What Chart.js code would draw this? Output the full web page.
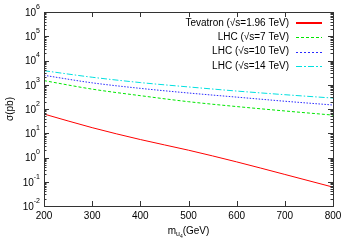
<!DOCTYPE html>
<html>
<head>
<meta charset="utf-8">
<script src="https://cdn.jsdelivr.net/npm/chart.js@4"></script>
<style>
  html, body { margin: 0; padding: 0; background: #fff; }
  #wrap { width: 350px; height: 245px; }
</style>
</head>
<body>
<div id="wrap"><canvas id="grafico" width="350" height="245"></canvas></div>
<script>
// datos
const masas = [200, 300, 400, 500, 600, 700, 800];
const tevatron = [62, 17, 5.5, 2.0, 0.66, 0.2, 0.06];
const lhc7 = [1480, 660, 355, 200, 126, 83, 56];
const lhc10 = [2450, 1200, 710, 457, 309, 209, 146];
const lhc14 = [3800, 2040, 1230, 813, 550, 389, 282];

const xTicks = [200, 300, 400, 500, 600, 700, 800];
const yExpos = [-2, -1, 0, 1, 2, 3, 4, 5, 6];
const etiquetas = ["Tevatron (\u221As=1.96 TeV)", "LHC (\u221As=7 TeV)", "LHC (\u221As=10 TeV)", "LHC (\u221As=14 TeV)"];
const colores = ["#ff0000", "#00e600", "#2a2aff", "#00e0e0"];
const trazos = [[], [3, 2], [1.5, 1.5], [6, 2, 1.5, 2]];

const FUENTE = "'Liberation Sans', Arial, sans-serif";

function puntos(vals) {
  return masas.map((m, i) => ({ x: m, y: vals[i] }));
}

const series = [tevatron, lhc7, lhc10, lhc14];

// segmento de leyenda hecho con rectangulos (patron de trazo)
function segmento(ctx, x1, x2, y, alto, patron, color) {
  ctx.fillStyle = color;
  if (!patron.length) { ctx.fillRect(x1, y, x2 - x1, alto); return; }
  let x = x1, k = 0;
  while (x < x2) {
    const largo = patron[k % patron.length];
    if (k % 2 === 0) ctx.fillRect(x, y, Math.min(largo, x2 - x), alto);
    x += largo;
    k++;
  }
}

const ejes = {
  id: "ejes",
  afterDraw(chart) {
    const ctx = chart.ctx;
    const a = chart.chartArea;
    const sx = chart.scales.x;
    const sy = chart.scales.y;
    ctx.save();
    ctx.strokeStyle = "#333";
    ctx.lineWidth = 1;
    ctx.strokeRect(a.left + 0.5, a.top + 0.5, a.right - a.left, a.bottom - a.top);

    // ticks x
    ctx.beginPath();
    xTicks.forEach(v => {
      const px = Math.round(sx.getPixelForValue(v)) + 0.5;
      ctx.moveTo(px, a.bottom); ctx.lineTo(px, a.bottom - 5);
      ctx.moveTo(px, a.top); ctx.lineTo(px, a.top + 5);
    });
    // ticks y mayores y menores
    yExpos.forEach(e => {
      const py = Math.round(sy.getPixelForValue(Math.pow(10, e))) + 0.5;
      ctx.moveTo(a.left, py); ctx.lineTo(a.left + 5, py);
      ctx.moveTo(a.right, py); ctx.lineTo(a.right - 5, py);
      if (e < 6) {
        for (let k = 2; k <= 9; k++) {
          const pm = Math.round(sy.getPixelForValue(k * Math.pow(10, e))) + 0.5;
          ctx.moveTo(a.left, pm); ctx.lineTo(a.left + 2.5, pm);
          ctx.moveTo(a.right, pm); ctx.lineTo(a.right - 2.5, pm);
        }
      }
    });
    ctx.stroke();

    ctx.fillStyle = "#000";
    // etiquetas x
    ctx.font = "10px " + FUENTE;
    ctx.textAlign = "center";
    ctx.textBaseline = "middle";
    xTicks.forEach(v => {
      ctx.fillText(String(v), sx.getPixelForValue(v), a.bottom + 10);
    });

    // etiquetas y con exponente
    yExpos.forEach(e => {
      const py = sy.getPixelForValue(Math.pow(10, e));
      const exp = String(e);
      ctx.font = "7px " + FUENTE;
      const we = ctx.measureText(exp).width;
      ctx.textAlign = "left";
      ctx.textBaseline = "middle";
      const xe = a.left - 4 - we;
      ctx.fillText(exp, xe, py - 5);
      ctx.font = "10px " + FUENTE;
      ctx.textAlign = "right";
      ctx.fillText("10", xe, py + 1);
    });

    // titulo y
    ctx.save();
    ctx.translate(10, (a.top + a.bottom) / 2);
    ctx.rotate(-Math.PI / 2);
    ctx.font = "10px " + FUENTE;
    ctx.textAlign = "center";
    ctx.textBaseline = "middle";
    ctx.fillText("\u03C3(pb)", 0, 0);
    ctx.restore();

    // titulo x: m_{u_4}(GeV)
    const cx = (a.left + a.right) / 2;
    const ty = 231;
    ctx.textBaseline = "middle";
    ctx.textAlign = "left";
    ctx.font = "10px " + FUENTE;
    const w1 = ctx.measureText("m").width;
    ctx.font = "7px " + FUENTE;
    const w2 = ctx.measureText("u").width;
    ctx.font = "5px " + FUENTE;
    const w3 = ctx.measureText("4").width;
    ctx.font = "10px " + FUENTE;
    const w4 = ctx.measureText("(GeV)").width;
    let x0 = cx - (w1 + w2 + w3 + w4) / 2;
    ctx.fillText("m", x0, ty);
    ctx.font = "7px " + FUENTE;
    ctx.fillText("u", x0 + w1, ty + 3);
    ctx.font = "5px " + FUENTE;
    ctx.fillText("4", x0 + w1 + w2, ty + 6);
    ctx.font = "10px " + FUENTE;
    ctx.fillText("(GeV)", x0 + w1 + w2 + w3, ty);
    ctx.restore();

    // leyenda
    etiquetas.forEach((t, i) => {
      const y = 23 + i * 14.3;
      ctx.save();
      ctx.font = "10px " + FUENTE;
      ctx.textAlign = "right";
      ctx.textBaseline = "middle";
      ctx.fillStyle = "#000";
      ctx.fillText(t, 289, y);
      const alto = i === 0 ? 2 : 1;
      segmento(ctx, 296, 322, Math.round(y) - (i === 0 ? 1 : 0), alto, trazos[i].map(Math.round), colores[i]);
      ctx.restore();
    });
  }
};

new Chart(document.getElementById("grafico"), {
  type: "line",
  data: {
    datasets: series.map((s, i) => ({
      label: etiquetas[i],
      data: puntos(s),
      borderColor: colores[i],
      borderWidth: 1,
      borderDash: trazos[i],
      pointRadius: 0,
      tension: 0.4,
      cubicInterpolationMode: "monotone",
      fill: false
    }))
  },
  options: {
    responsive: false,
    animation: false,
    layout: { padding: { left: 44, right: 17, top: 12, bottom: 39 } },
    plugins: { legend: { display: false }, tooltip: { enabled: false } },
    scales: {
      x: { type: "linear", min: 200, max: 800, display: false },
      y: { type: "logarithmic", min: 0.01, max: 1e6, display: false }
    }
  },
  plugins: [ejes]
});
</script>
</body>
</html>
